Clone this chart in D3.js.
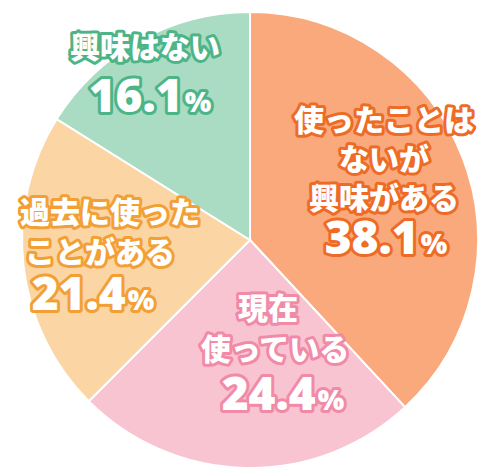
<!DOCTYPE html><html><head><meta charset="utf-8"><script src="https://cdn.jsdelivr.net/npm/d3@7"></script>
<style>body{margin:0;background:#fff}</style></head><body><svg id="c" width="500" height="468"></svg>
<script>
const categories=["使ったことはないが興味がある","現在使っている","過去に使ったことがある","興味はない"];
const values=[38.1,24.4,21.4,16.1];
const fills=["#f9a97c","#f9c4d2","#fbd6a4","#a9dcc2"];
const outlines=["#ee6b26","#f18aa6","#f29f35","#4db487"];
const labelLines=[["使ったことは","ないが","興味がある"],["現在","使っている"],["過去に使った","ことがある"],["興味はない"]];
const pctLabels=["38.1","24.4","21.4","16.1"];
const labelPos=[[384,118,39],[268,306,41],[110,210,40],[145,45,0]];
const pctPos=[[386,254],[283,410],[93,310],[150,112]];
const svg=d3.select("#c");
const g=svg.append("g").attr("transform","translate(250,240)");
const pie=d3.pie().sort(null).value(d=>d);
const arc=d3.arc().innerRadius(0).outerRadius(228);
g.selectAll("path").data(pie(values)).join("path").attr("d",arc)
 .attr("fill",(d,i)=>fills[i]).attr("stroke","#fff").attr("stroke-width",2);
const font="'Noto Sans CJK JP',sans-serif";
labelLines.forEach((lines,i)=>{
 const [x,y,lh]=labelPos[i];
 lines.forEach((t,j)=>{
  let xx=x; if(i===1&&j===1)xx=275; if(i===2&&j===1)xx=100;
  svg.append("text").attr("x",xx).attr("y",y+j*lh).attr("text-anchor","middle").attr("dominant-baseline","central")
   .attr("font-family",font).attr("font-weight",900).attr("font-size",30).attr("fill","#fff")
   .attr("stroke",outlines[i]).attr("stroke-width",6).attr("stroke-linejoin","round").attr("paint-order","stroke").text(t);
 });
 const [px,py]=pctPos[i];
 const t=svg.append("text").attr("x",px).attr("y",py).attr("text-anchor","middle")
  .attr("font-family","'Open Sans',sans-serif").attr("font-weight",800).attr("font-size",46).attr("fill","#fff")
  .attr("stroke",outlines[i]).attr("stroke-width",6).attr("stroke-linejoin","round").attr("paint-order","stroke");
 t.append("tspan").text(pctLabels[i]);
 t.append("tspan").attr("font-size",28).attr("dx",2).text("%");
});
</script></body></html>
